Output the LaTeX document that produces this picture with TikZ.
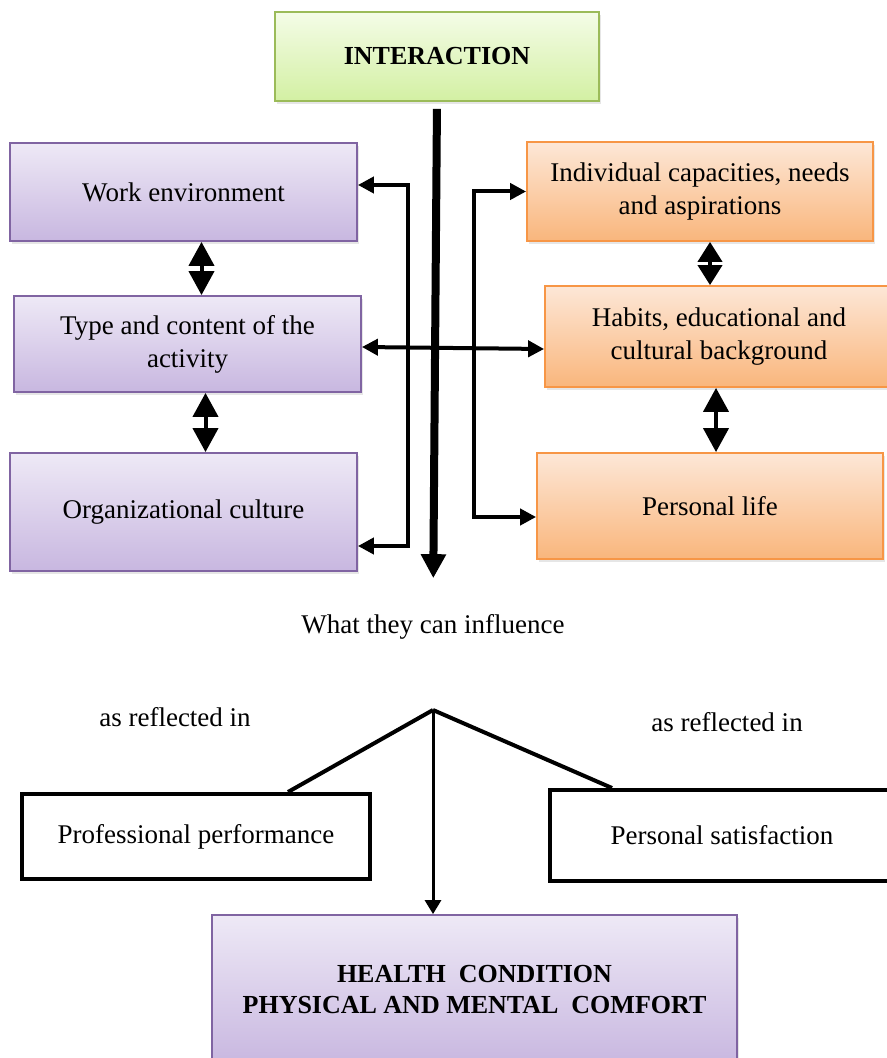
\documentclass[tikz,border=0pt]{standalone}
\usepackage{fontspec}
\setmainfont{Liberation Serif}
\usepackage{xcolor}
\usetikzlibrary{arrows.meta, positioning, shadows}

\definecolor{lilacline}{HTML}{8064A2}
\definecolor{lilactop}{HTML}{EEE9F6}
\definecolor{lilacbot}{HTML}{C8B7E0}
\definecolor{peachline}{HTML}{F79646}
\definecolor{peachtop}{HTML}{FDE7D7}
\definecolor{peachbot}{HTML}{F9B67C}
\definecolor{limeline}{HTML}{9BBB59}
\definecolor{limetop}{HTML}{F4FCE7}
\definecolor{limebot}{HTML}{D3F0A3}

\begin{document}
\begin{tikzpicture}[
    x=0.5pt, y=-0.5pt,
    box/.style={draw, align=center, minimum width=173.5pt, minimum height=49pt,
        font=\fontsize{13.5}{16.5}\selectfont, line width=0.9pt,
        drop shadow={opacity=0.2, shadow xshift=1pt, shadow yshift=-1.5pt}},
    work/.style={box, draw=lilacline, top color=lilactop, bottom color=lilacbot},
    self/.style={box, draw=peachline, top color=peachtop, bottom color=peachbot},
    head/.style={box, draw=limeline, top color=limetop, bottom color=limebot,
        font=\fontsize{13}{16}\selectfont\bfseries},
    outcome/.style={draw, line width=2pt, fill=white, minimum width=174pt, minimum height=42.5pt,
        font=\fontsize{13.5}{16.5}\selectfont},
    lbl/.style={font=\fontsize{13.5}{16.5}\selectfont, inner sep=0pt},
    bigarrow/.style={-{Triangle[length=12pt,width=12pt]}, line width=4pt},
    arrow/.style={{Triangle[length=8pt,width=8pt]}-{Triangle[length=8pt,width=8pt]}, line width=2pt},
    fatarrow/.style={{Triangle[length=12pt,width=12.5pt]}-{Triangle[length=12pt,width=12.5pt]}, line width=2pt},
    shortfat/.style={{Triangle[length=10pt,width=12pt]}-{Triangle[length=10pt,width=12pt]}, line width=2pt},
    thinarrow/.style={-{Triangle[length=7pt,width=8pt]}, line width=1.5pt},
]
\useasboundingbox (0,0) rectangle (887,1058);

% top
\node[head, minimum width=162pt, minimum height=44.5pt] (inter) at (437,56.5) {INTERACTION};

% left column
\node[work] (workenv) at (183.5,192) {Work environment};
\node[work, minimum height=48pt] (type) at (187.5,344) {Type and content of the\\activity};
\node[work, minimum height=59pt] (org) at (183.5,512) {Organizational culture};

% right column
\node[self, minimum width=173pt, minimum height=49.5pt] (indiv) at (700,191.5) {Individual capacities, needs\\and aspirations};
\node[self, minimum width=174pt, minimum height=50.5pt] (habits) at (719,336.5) {Habits, educational and\\cultural background};
\node[self, minimum width=173pt, minimum height=53pt] (perslife) at (710,506) {Personal life};

\node[lbl] (influence) at (433,627) {What they can influence};

\draw[bigarrow, shorten <=3.5pt, shorten >=18pt] (inter.south) -- (influence.north);
\draw[arrow] ([yshift=3.5pt]workenv.east) -- ++(50,0) |- ([yshift=-17pt]org.east);
\draw[arrow] (indiv.west) -- ++(-52,0) |- ([yshift=-5.5pt]perslife.west);
\draw[arrow] ([yshift=-1.5pt]type.east) -- ([yshift=-6.25pt]habits.west);

\draw[fatarrow] ([xshift=9pt]workenv.south) -- ([xshift=7pt]type.north);
\draw[fatarrow] ([xshift=9pt]type.south) -- ([xshift=11pt]org.north);
\draw[shortfat] ([xshift=5pt]indiv.south) -- ([xshift=-4.5pt]habits.north);
\draw[fatarrow] ([xshift=-1.5pt]habits.south) -- ([xshift=3pt]perslife.north);

% bottom part
\coordinate (fork) at (433,710);
\node[lbl] (refl1) at (175,717) {as reflected in};
\node[lbl] (refl2) at (727,722) {as reflected in};
\node[outcome] (perf) at (196,836.5) {Professional performance};
\node[outcome, minimum width=172.5pt, minimum height=45.5pt] (satis) at (722,835.5) {Personal satisfaction};
\node[work, minimum width=262.5pt, minimum height=75pt, font=\fontsize{13}{15.5}\selectfont\bfseries] (health) at (474.5,990)
    {HEALTH\ \ CONDITION\\PHYSICAL AND MENTAL\ \ COMFORT};

\draw[line width=2pt] (fork) -- ([xshift=46pt]perf.north);
\draw[line width=2pt] (fork) -- ([xshift=-55pt]satis.north);
\draw[thinarrow] (fork) -- ([xshift=-20.75pt]health.north);
\end{tikzpicture}
\end{document}
